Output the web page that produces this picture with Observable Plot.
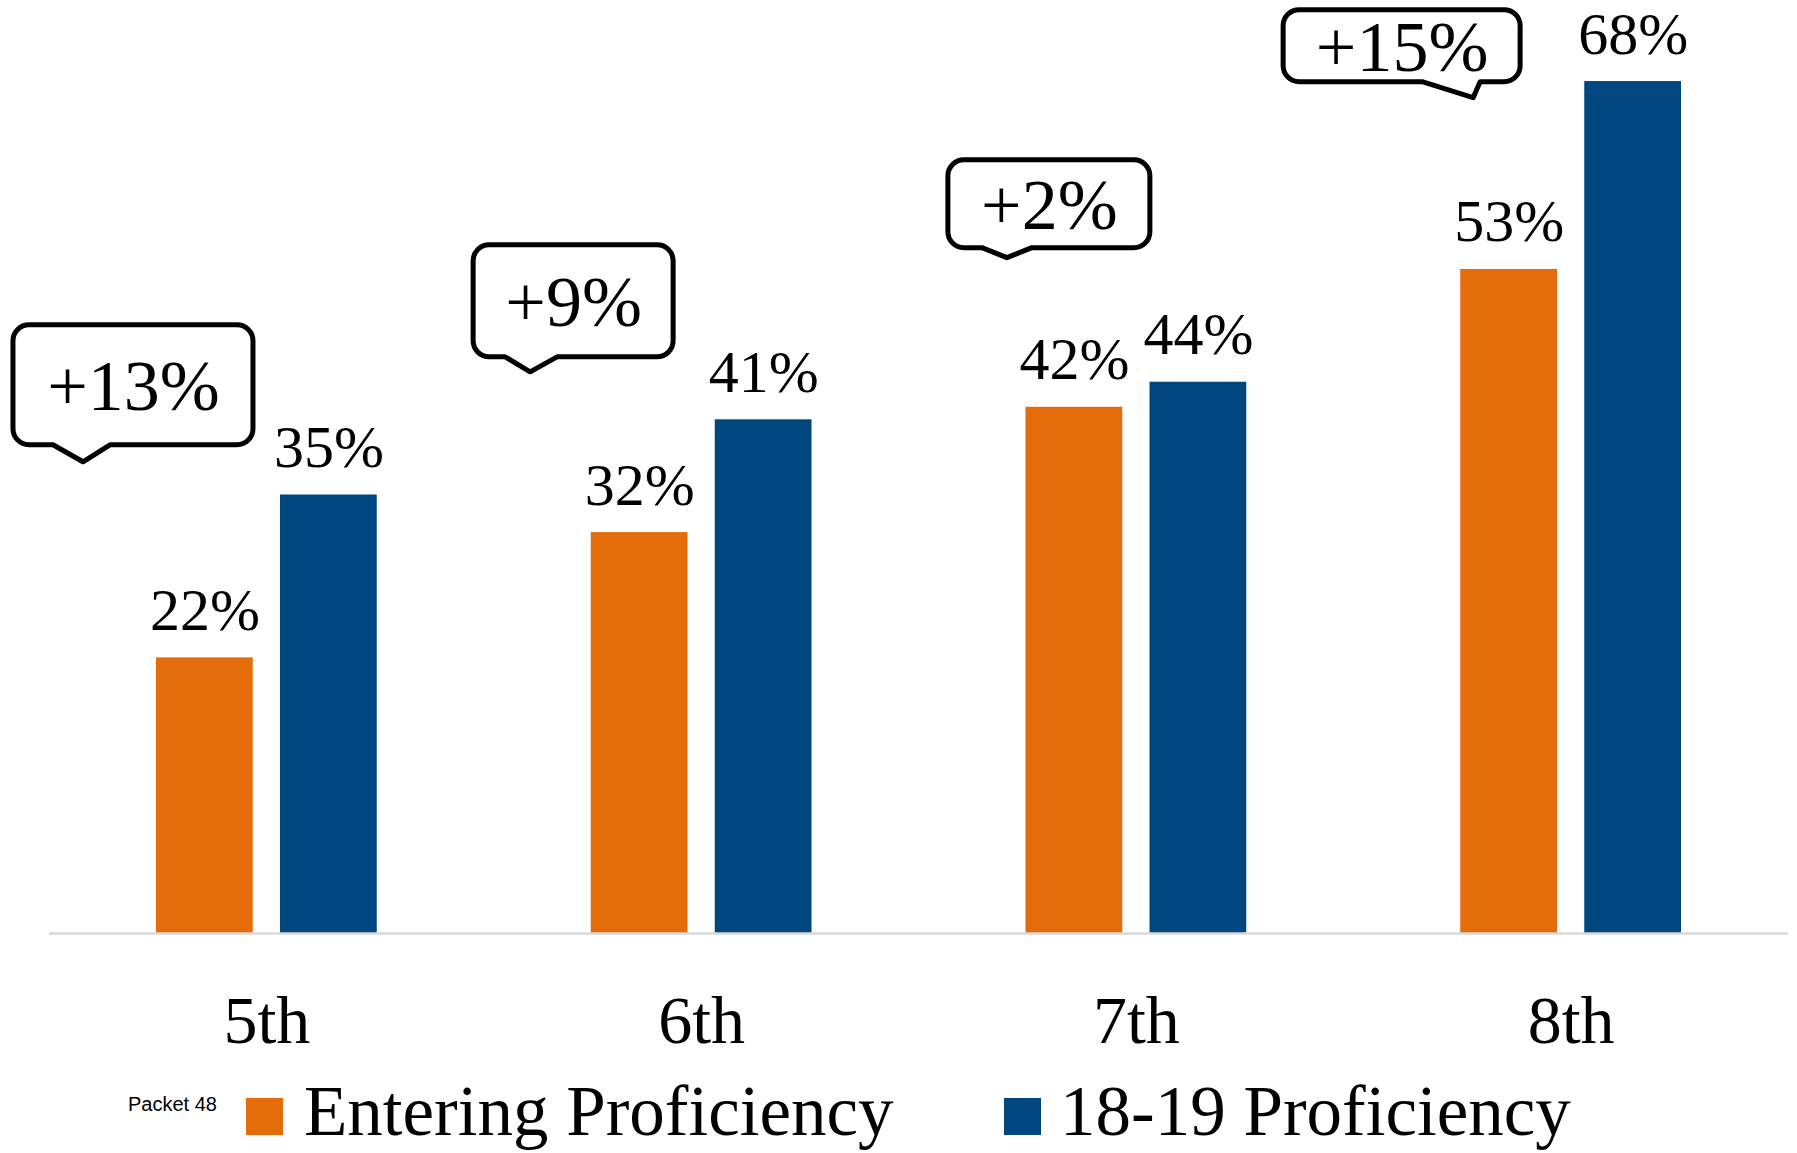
<!DOCTYPE html>
<html>
<head>
<meta charset="utf-8">
<script src="https://cdn.jsdelivr.net/npm/d3@7"></script>
<script src="https://cdn.jsdelivr.net/npm/@observablehq/plot@0.6"></script>
<style>
  html, body { margin: 0; padding: 0; background: #fff; }
  body { width: 1797px; height: 1153px; overflow: hidden; font-family: "Liberation Serif", "Times New Roman", serif; }
  #chart { position: relative; width: 1797px; height: 1080px; }
  #legend { position: relative; width: 1797px; height: 73px; }
  #legend .item { position: absolute; white-space: nowrap; }
  #legend .packet { font-family: "Liberation Sans", Arial, sans-serif; font-size: 20px; line-height: 20px; color: #000; left: 128px; top: 14px; }
  #legend .sw { position: absolute; width: 37px; height: 37px; top: 18px; }
  #legend .lab { font-size: 71px; line-height: 71px; color: #000; top: -4px; }
</style>
</head>
<body>
<div id="chart"></div>
<div id="legend"></div>
<script>
// ---- data ----
const grades = ["5th", "6th", "7th", "8th"];
const entering = [22, 32, 42, 53];
const current = [35, 41, 44, 68];
const seriesNames = ["Entering Proficiency", "18-19 Proficiency"];
const seriesColors = ["#E46C0A", "#00477F"];
const footnote = "Packet 48";

// gains shown in the callouts (computed from the two series)
const gains = grades.map((g, i) => current[i] - entering[i]);

// ---- callout layout (annotation geometry, not data) ----
const calloutLayout = [
  {dx: -133.4, w: 240, top: 48.55, bottom: 38.97, baseL: 40, baseR: 97, tipX: 70, tipDepth: 17},
  {dx: -128, w: 200, top: 54.93, bottom: 45.99, baseL: 32, baseR: 84, tipX: 57, tipDepth: 15},
  {dx: -87, w: 202, top: 61.72, bottom: 54.70, baseL: 34, baseR: 84, tipX: 59, tipDepth: 10},
  {dx: -169, w: 237, top: 73.7, bottom: 67.95, baseL: 139, baseR: 197, tipX: 190, tipDepth: 16}
];

const rows = grades.flatMap((g, i) => [
  {grade: g, series: seriesNames[0], value: entering[i]},
  {grade: g, series: seriesNames[1], value: current[i]}
]);
const rowsA = rows.filter(d => d.series === seriesNames[0]);
const rowsB = rows.filter(d => d.series === seriesNames[1]);
const calloutRows = grades.map((g, i) => ({
  grade: g,
  label: "+" + gains[i] + "%",
  yMid: (calloutLayout[i].top + calloutLayout[i].bottom) / 2
}));

function calloutMark(index, scales) {
  const x = scales.x, y = scales.y;
  const bw = typeof x.bandwidth === "function" ? x.bandwidth() : 0;
  const g = d3.create("svg:g");
  grades.forEach((gr, i) => {
    const L = calloutLayout[i];
    const cx = x(gr) + bw / 2 + L.dx;
    const left = cx - L.w / 2, right = cx + L.w / 2;
    const top = y(L.top), bottom = y(L.bottom);
    const r = 16;
    const p = d3.path();
    p.moveTo(left + r, top);
    p.lineTo(right - r, top);
    p.arcTo(right, top, right, top + r, r);
    p.lineTo(right, bottom - r);
    p.arcTo(right, bottom, right - r, bottom, r);
    p.lineTo(left + L.baseR, bottom);
    p.lineTo(left + L.tipX, bottom + L.tipDepth);
    p.lineTo(left + L.baseL, bottom);
    p.lineTo(left + r, bottom);
    p.arcTo(left, bottom, left, bottom - r, r);
    p.lineTo(left, top + r);
    p.arcTo(left, top, left + r, top, r);
    p.closePath();
    g.append("path")
      .attr("d", p.toString())
      .attr("fill", "white")
      .attr("stroke", "black")
      .attr("stroke-width", 5)
      .attr("stroke-linejoin", "round");
  });
  return g.node();
}

const plot = Plot.plot({
  width: 1797,
  height: 1080,
  marginLeft: 49,
  marginRight: 9,
  marginTop: 56,
  marginBottom: 147,
  x: {domain: grades, padding: 0, round: false, axis: null},
  y: {domain: [0, 70], axis: null},
  color: {domain: seriesNames, range: seriesColors},
  style: {fontFamily: '"Liberation Serif", "Times New Roman", serif', background: "white", color: "black", overflow: "visible"},
  marks: [
    Plot.barY(rowsA, {x: "grade", y: "value", fill: "series", insetLeft: 107, insetRight: 231}),
    Plot.barY(rowsB, {x: "grade", y: "value", fill: "series", insetLeft: 231, insetRight: 107}),
    Plot.ruleY([0], {stroke: "#d9d9d9", strokeWidth: 2.5}),
    Plot.text(rowsA, {x: "grade", y: "value", text: d => d.value + "%", dx: -62, dy: -28, lineAnchor: "bottom", fontSize: 60, fill: "black"}),
    Plot.text(rowsB, {x: "grade", y: "value", text: d => d.value + "%", dx: 62, dy: -28, lineAnchor: "bottom", fontSize: 60, fill: "black"}),
    Plot.text(grades, {x: d => d, text: d => d, frameAnchor: "bottom", dy: 109, lineAnchor: "bottom", fontSize: 68, fill: "black"}),
    calloutMark,
    ...calloutRows.map((c, i) =>
      Plot.text([c], {x: "grade", y: "yMid", dx: calloutLayout[i].dx, dy: 2, text: "label", lineAnchor: "middle", fontSize: 72, fill: "black"})
    )
  ]
});
document.getElementById("chart").appendChild(plot);

// ---- legend (HTML, below the SVG) ----
const legend = document.getElementById("legend");
legend.innerHTML = `
  <div class="item packet">${footnote}</div>
  <div class="sw" style="left:246px;background:${seriesColors[0]}"></div>
  <div class="item lab" style="left:304px">${seriesNames[0]}</div>
  <div class="sw" style="left:1004px;background:${seriesColors[1]}"></div>
  <div class="item lab" style="left:1060px">${seriesNames[1]}</div>
`;
</script>
</body>
</html>
